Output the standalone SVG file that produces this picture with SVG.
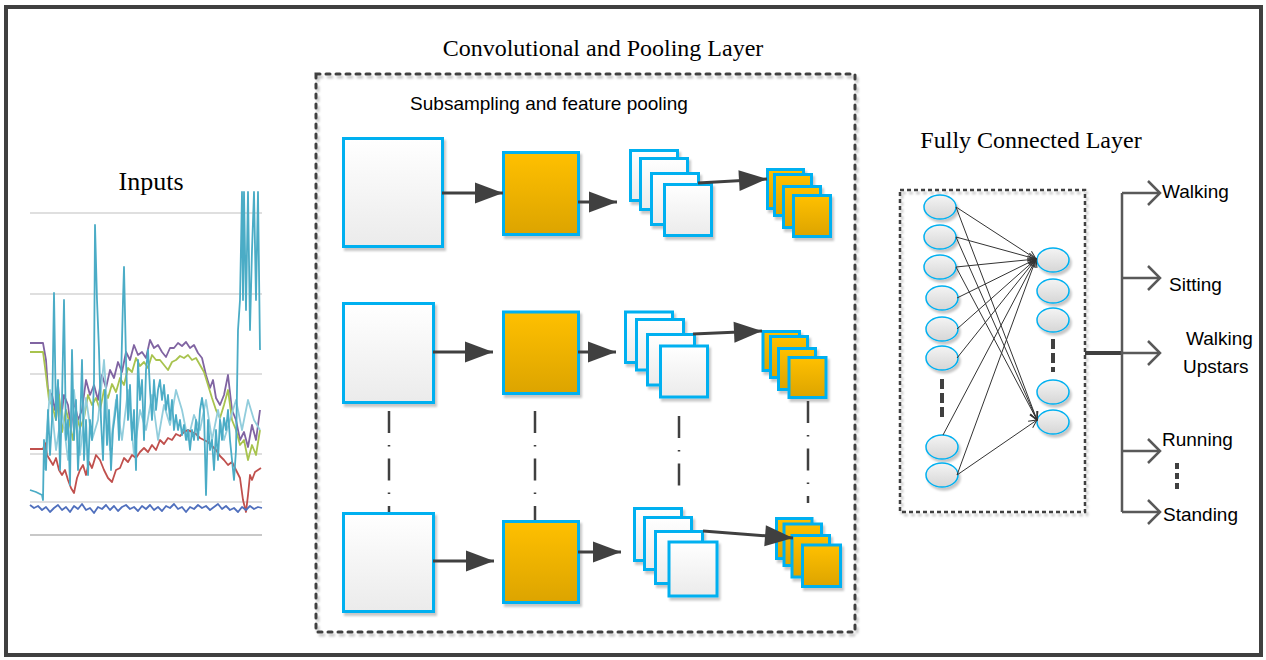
<svg xmlns="http://www.w3.org/2000/svg" width="1266" height="660" viewBox="0 0 1266 660">
<style>
.wb{fill:url(#gw);stroke:#00B0F0;stroke-width:3}
.ob{fill:url(#go);stroke:#00B0F0;stroke-width:3}
.neu{fill:url(#gn);stroke:#00B0F0;stroke-width:1.5}
.ttl{font-family:"Liberation Serif","Times New Roman",serif;fill:#000}
.lbl{font-family:"Liberation Sans",Arial,sans-serif;font-size:19px;fill:#000}
.arr{stroke:#404040;stroke-width:3;fill:none;marker-end:url(#tri)}
.fc{stroke:#333;stroke-width:1;fill:none;marker-end:url(#sm)}
.dd{stroke:#404040;stroke-width:2.5;fill:none;stroke-dasharray:22 12 1.5 12}
.grid{stroke:#d4d4d4;stroke-width:1.5}
.tr{fill:none;stroke-width:1.8;stroke-linejoin:round}
.br{stroke:#595959;stroke-width:2.5;fill:none;marker-end:url(#chs)}
</style>
<defs>
<linearGradient id="gw" x1="0" y1="0" x2="0" y2="1"><stop offset="0" stop-color="#ffffff"/><stop offset="1" stop-color="#ebebeb"/></linearGradient>
<linearGradient id="go" x1="0" y1="0" x2="0" y2="1"><stop offset="0" stop-color="#FFC000"/><stop offset="1" stop-color="#DCA400"/></linearGradient>
<linearGradient id="gn" x1="0" y1="0" x2="0" y2="1"><stop offset="0" stop-color="#f4f4f4"/><stop offset="1" stop-color="#d6d6d6"/></linearGradient>
<filter id="sh" x="-20%" y="-20%" width="150%" height="150%"><feDropShadow dx="2" dy="3" stdDeviation="1.2" flood-color="#000" flood-opacity="0.22"/></filter>
<marker id="tri" markerUnits="userSpaceOnUse" markerWidth="30" markerHeight="24" refX="28" refY="10.5" orient="auto" overflow="visible"><path d="M0,0 L28,10.5 L0,21 z" fill="#404040"/></marker>
<marker id="sm" markerUnits="userSpaceOnUse" markerWidth="10" markerHeight="10" refX="8" refY="4" orient="auto" overflow="visible"><path d="M0,0 L8,4 L0,8" fill="none" stroke="#333" stroke-width="1"/></marker>
<marker id="chb" markerUnits="userSpaceOnUse" markerWidth="20" markerHeight="30" refX="14" refY="13" orient="auto" overflow="visible"><path d="M1,0 L14,13 L1,26" fill="none" stroke="#404040" stroke-width="4"/></marker>
<marker id="chs" markerUnits="userSpaceOnUse" markerWidth="20" markerHeight="30" refX="12" refY="12" orient="auto" overflow="visible"><path d="M0,0 L12,12 L0,24" fill="none" stroke="#595959" stroke-width="2.5"/></marker>
</defs>
<rect width="1266" height="660" fill="#fff"/>
<rect x="6" y="7" width="1255" height="648" fill="none" stroke="#404040" stroke-width="4"/>

<text class="ttl" x="603" y="56" font-size="24" text-anchor="middle">Convolutional and Pooling Layer</text>
<text class="ttl" x="1031" y="148" font-size="24" text-anchor="middle">Fully Connected Layer</text>
<text class="ttl" x="151" y="190" font-size="26" text-anchor="middle">Inputs</text>
<text class="lbl" x="549" y="110" text-anchor="middle" font-size="19.6">Subsampling and feature pooling</text>

<g id="inputs-chart">
<line class="grid" x1="30" y1="213" x2="262" y2="213"/>
<line class="grid" x1="30" y1="294" x2="262" y2="294"/>
<line class="grid" x1="30" y1="374" x2="262" y2="374"/>
<line class="grid" x1="30" y1="454" x2="262" y2="454"/>
<line class="grid" x1="30" y1="502" x2="262" y2="502"/>
<line x1="30" y1="535" x2="262" y2="535" stroke="#c8c8c8" stroke-width="2"/>
<polyline class="tr" stroke="#8064A2" points="30,343 43,343 46,360 48,390 52,395 55,410 58,385 61,420 64,395 68,405 71,430 74,400 78,420 82,410 86,380 90,395 94,385 98,400 102,375 106,388 110,370 114,378 118,362 122,372 126,352 130,360 134,345 138,355 142,352 146,358 150,340 154,348 158,345 162,352 166,357 170,348 174,348 178,343 182,346 186,342 190,348 194,345 198,353 202,358 206,375 210,388 213,380 216,398 220,405 224,395 228,375 232,410 236,420 240,440 244,432 248,447 252,425 256,440 260,410"/>
<polyline class="tr" stroke="#A8C34E" points="30,352 43,352 46,375 49,400 52,405 56,420 59,395 62,432 66,410 70,425 73,440 76,415 80,428 84,418 88,395 92,405 96,398 100,410 104,390 108,398 112,384 116,392 120,378 124,385 128,368 132,372 136,358 140,366 144,362 148,368 152,355 156,360 160,360 164,365 168,370 172,362 176,360 180,356 184,358 188,355 192,360 196,358 200,365 204,372 208,385 212,398 216,410 220,418 224,405 228,390 232,420 236,430 240,445 244,440 248,460 252,445 256,455 260,430"/>
<polyline class="tr" stroke="#92CDDC" points="44,470 50,390 56,450 62,410 68,460 74,390 80,455 86,398 92,440 98,420 104,360 110,450 116,400 122,440 128,390 134,455 140,410 146,430 152,395 158,440 164,405 170,425 176,390 182,410 188,440 194,415 200,430 206,400 212,440 218,410 224,440 230,420 236,400 242,430 248,400 254,420 260,430"/>
<polyline class="tr" stroke="#C0504D" points="30,449 43,449 45,443 47,455 50,460 53,465 56,458 59,470 62,475 65,470 68,480 71,488 74,493 77,478 80,470 83,465 86,475 89,462 92,468 96,455 100,460 104,470 108,478 112,482 116,470 120,468 124,458 128,462 132,455 136,458 140,452 144,448 148,452 152,445 156,450 160,440 164,444 168,438 172,440 176,434 180,436 184,432 188,430 192,432 196,434 200,438 204,440 208,442 212,446 216,450 220,456 224,460 228,465 232,462 236,470 240,478 243,500 246,512 248,495 250,475 252,480 255,472 258,470 261,468"/>
<polyline class="tr" stroke="#4BACC6" points="30,490 36,492 42,495 43,500 44,440 46,470 48,410 50,455 52,420 54,293 56,420 58,380 60,470 62,400 64,300 66,440 68,420 70,485 72,350 74,440 76,400 78,470 80,430 82,360 84,460 86,420 88,475 90,420 92,440 94,380 95,225 97,300 99,350 101,420 103,460 105,390 107,445 109,410 111,470 113,430 115,415 117,395 119,440 121,380 123,300 124,267 126,360 128,420 130,385 132,440 134,410 136,470 138,360 140,400 142,380 144,440 146,370 148,350 150,390 152,420 154,380 156,410 158,390 160,380 162,400 164,385 166,410 168,395 170,420 172,400 174,430 176,415 178,430 180,420 182,435 184,425 186,440 188,430 190,450 192,430 194,440 196,420 198,440 200,410 202,398 204,412 206,495 208,420 210,450 212,440 214,470 216,430 218,460 220,420 222,440 224,418 226,430 228,410 230,440 232,460 234,480 236,450 238,330 240,300 242,192 243,300 244,192 246,310 248,192 250,330 252,250 254,192 256,300 258,192 260,350"/>
<polyline class="tr" stroke="#4F6FBD" points="30,505 34,508 38,506 42,510 46,507 50,512 54,508 58,505 62,510 66,507 70,512 74,506 78,509 82,504 86,510 90,508 94,513 98,507 102,509 106,505 110,510 114,506 118,511 122,507 126,505 130,509 134,507 138,511 142,506 146,509 150,505 154,510 158,507 162,511 166,506 170,508 174,504 178,509 182,507 186,512 190,507 194,509 198,505 202,508 206,506 210,510 214,507 218,504 222,509 226,506 230,510 234,508 238,512 242,507 246,510 250,506 254,509 258,507 262,508"/>
</g>

<g id="conv-layer">
<rect x="316" y="74" width="539" height="558" fill="none" stroke="#404040" stroke-width="3" stroke-dasharray="4 6" stroke-linecap="round" filter="url(#sh)"/>
</g>

<g id="row1" filter="url(#sh)">
<rect class="wb" x="343.5" y="138.5" width="99" height="108"/>
<rect class="ob" x="503.5" y="152.5" width="75" height="82"/>
<rect class="wb" x="630.5" y="150.5" width="47" height="50"/>
<rect class="wb" x="640.5" y="158.5" width="47" height="51"/>
<rect class="wb" x="651.5" y="173.5" width="47" height="51"/>
<rect class="wb" x="664.5" y="184.5" width="47" height="51"/>
<rect class="ob" x="767.5" y="169.5" width="36" height="39"/>
<rect class="ob" x="774.5" y="174.5" width="37" height="41"/>
<rect class="ob" x="783.5" y="186.5" width="37" height="41"/>
<rect class="ob" x="793.5" y="195.5" width="37" height="41"/>
</g>
<g id="row2" filter="url(#sh)">
<rect class="wb" x="343.5" y="303.5" width="90" height="99"/>
<rect class="ob" x="503.5" y="312" width="75" height="81.5"/>
<rect class="wb" x="625.5" y="312" width="47" height="50.5"/>
<rect class="wb" x="636.5" y="319.5" width="47" height="50.5"/>
<rect class="wb" x="647.5" y="334.5" width="47" height="50.5"/>
<rect class="wb" x="660.5" y="346" width="47" height="51"/>
<rect class="ob" x="763" y="331.5" width="36.5" height="39"/>
<rect class="ob" x="770.5" y="336.5" width="37" height="41"/>
<rect class="ob" x="778.5" y="348.5" width="37" height="41"/>
<rect class="ob" x="789" y="357.5" width="37" height="40"/>
</g>
<g id="row3" filter="url(#sh)">
<rect class="wb" x="343.5" y="513.5" width="90" height="98"/>
<rect class="ob" x="503.5" y="521.5" width="75" height="81"/>
<rect class="wb" x="634.5" y="508.5" width="47" height="52"/>
<rect class="wb" x="644.5" y="517.5" width="47" height="52"/>
<rect class="wb" x="655.5" y="531.5" width="47" height="52"/>
<rect class="wb" x="669" y="542" width="48" height="54"/>
<rect class="ob" x="776.5" y="518.5" width="35.5" height="40"/>
<rect class="ob" x="784" y="524" width="37.5" height="41.5"/>
<rect class="ob" x="792" y="535.5" width="37.5" height="41.5"/>
<rect class="ob" x="802.5" y="545" width="38" height="41.5"/>
</g>

<g id="fc-layer">
<rect x="900" y="190" width="185" height="322" fill="none" stroke="#404040" stroke-width="2.5" stroke-dasharray="4 3" filter="url(#sh)"/>
<g filter="url(#sh)">
<ellipse class="neu" cx="940" cy="207" rx="16" ry="12"/>
<ellipse class="neu" cx="940" cy="237" rx="16" ry="12"/>
<ellipse class="neu" cx="940" cy="267" rx="16" ry="12"/>
<ellipse class="neu" cx="942" cy="298" rx="16" ry="12"/>
<ellipse class="neu" cx="942" cy="329" rx="16" ry="12"/>
<ellipse class="neu" cx="942" cy="358" rx="16" ry="12"/>
<ellipse class="neu" cx="942" cy="447" rx="16" ry="12"/>
<ellipse class="neu" cx="942" cy="475" rx="16" ry="12"/>
<ellipse class="neu" cx="1053" cy="260" rx="16" ry="12"/>
<ellipse class="neu" cx="1053" cy="291" rx="16" ry="12"/>
<ellipse class="neu" cx="1053" cy="320" rx="16" ry="12"/>
<ellipse class="neu" cx="1053" cy="392" rx="16" ry="12"/>
<ellipse class="neu" cx="1053" cy="422" rx="16" ry="12"/>
</g>
<line x1="942" y1="379" x2="942" y2="421" stroke="#404040" stroke-width="4" stroke-dasharray="10 4"/>
<line x1="1053" y1="339" x2="1053" y2="372" stroke="#404040" stroke-width="4" stroke-dasharray="10 4"/>
</g>

<g id="outputs">
<text class="lbl" x="1162" y="198">Walking</text>
<text class="lbl" x="1169" y="291">Sitting</text>
<text class="lbl" x="1186" y="345">Walking</text>
<text class="lbl" x="1183" y="373">Upstars</text>
<text class="lbl" x="1162" y="446">Running</text>
<text class="lbl" x="1163" y="521">Standing</text>
<line x1="1177" y1="463" x2="1177" y2="493" stroke="#404040" stroke-width="4" stroke-dasharray="6 4"/>
</g>

<g id="connectors">
<line class="arr" x1="442" y1="193" x2="503" y2="193"/>
<line class="arr" x1="578" y1="202" x2="617" y2="202"/>
<line class="arr" x1="698" y1="183" x2="767" y2="179"/>
<line class="arr" x1="433" y1="352" x2="493" y2="352"/>
<line class="arr" x1="578" y1="352" x2="616" y2="352"/>
<line class="arr" x1="693" y1="334" x2="762" y2="331"/>
<line class="arr" x1="433" y1="561" x2="494" y2="561"/>
<line class="arr" x1="578" y1="552" x2="621" y2="552"/>
<line class="arr" x1="703" y1="531" x2="793" y2="538"/>
<line class="dd" x1="389" y1="411" x2="389" y2="512"/>
<line class="dd" x1="535" y1="411" x2="535" y2="520"/>
<line class="dd" x1="679" y1="416" x2="679" y2="486"/>
<line class="dd" x1="808" y1="401" x2="808" y2="503"/>
<line x1="258" y1="353" x2="316" y2="353" stroke="#404040" stroke-width="4" marker-end="url(#chb)" filter="url(#sh)"/>
<line x1="853" y1="353" x2="900" y2="353" stroke="#404040" stroke-width="4" marker-end="url(#chb)" filter="url(#sh)"/>
<line class="fc" x1="956" y1="207" x2="1036" y2="259"/>
<line class="fc" x1="956" y1="237" x2="1036" y2="259"/>
<line class="fc" x1="956" y1="267" x2="1036" y2="259"/>
<line class="fc" x1="957" y1="298" x2="1036" y2="259"/>
<line class="fc" x1="957" y1="329" x2="1036" y2="259"/>
<line class="fc" x1="957" y1="358" x2="1036" y2="259"/>
<line class="fc" x1="943" y1="435" x2="1036" y2="259"/>
<line class="fc" x1="957" y1="475" x2="1036" y2="259"/>
<line class="fc" x1="956" y1="207" x2="1037" y2="420"/>
<line class="fc" x1="956" y1="237" x2="1037" y2="420"/>
<line class="fc" x1="956" y1="267" x2="1037" y2="420"/>
<line class="fc" x1="957" y1="475" x2="1037" y2="420"/>
<line x1="1085" y1="353" x2="1122" y2="353" stroke="#404040" stroke-width="4"/>
<line x1="1122" y1="193" x2="1122" y2="512" stroke="#595959" stroke-width="2.5"/>
<line class="br" x1="1122" y1="193" x2="1160" y2="193"/>
<line class="br" x1="1122" y1="278" x2="1160" y2="278"/>
<line class="br" x1="1122" y1="353" x2="1160" y2="353"/>
<line class="br" x1="1122" y1="451" x2="1160" y2="451"/>
<line class="br" x1="1122" y1="512" x2="1160" y2="512"/>
</g>
</svg>
